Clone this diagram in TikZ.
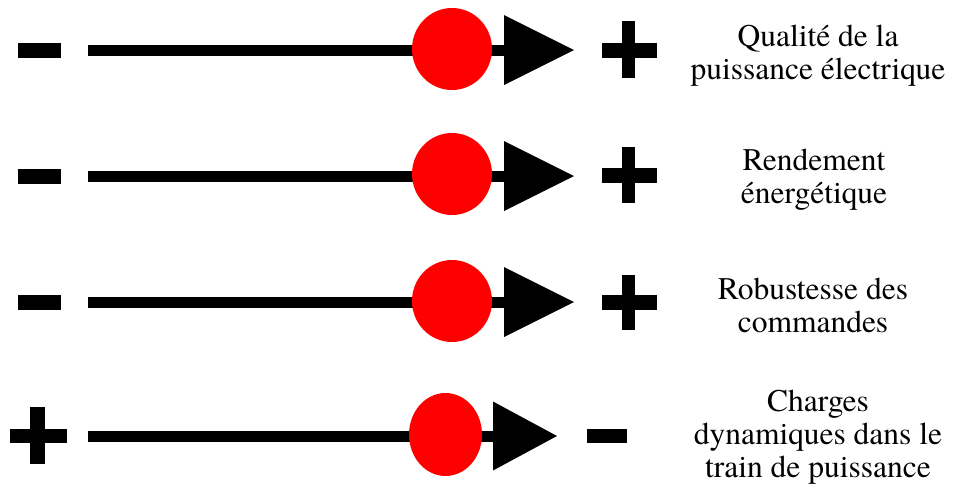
\documentclass[tikz,border=0pt]{standalone}
\usepackage{fontspec}
\setmainfont{texgyretermes}[Extension=.otf,UprightFont=*-regular,BoldFont=*-bold]
\usepackage{xcolor}
\usepackage{tikz}
\usetikzlibrary{arrows.meta}
\usetikzlibrary{shapes.geometric}
\usetikzlibrary{positioning}

\begin{document}
\begin{tikzpicture}[x=1pt,y=-1pt,
	axe/.style={line width=11pt,-{Triangle[length=70pt,width=70pt,line width=0pt]}},
	curseur/.style={ellipse,fill=red,inner sep=0pt,minimum width=80pt,minimum height=82pt},
	critere/.style={align=center,inner sep=0pt,font=\rmfamily\fontsize{31.5}{33}\selectfont}]
	\useasboundingbox (0,0) rectangle (954,491);
	% ligne 1
	\fill (18,43) rectangle (61,58);
	\coordinate (debut1) at (88,50);
	\coordinate (fin1) at (574,50);
	\draw[axe] (debut1) -- (fin1);
	\node[curseur] (curseur1) at (452,49) {};
	\fill (602,43) rectangle (657,58);
	\fill (622,21) rectangle (635,78);
	\node[critere] (critere1) at (818,56) {Qualité de la\\puissance électrique};
	% ligne 2
	\fill (18,169) rectangle (61,184);
	\coordinate (debut2) at (88,176);
	\coordinate (fin2) at (574,176);
	\draw[axe] (debut2) -- (fin2);
	\node[curseur] (curseur2) at (452,174) {};
	\fill (602,168) rectangle (657,183);
	\fill (622,147) rectangle (635,203);
	\node[critere] (critere2) at (814,180) {Rendement\\énergétique};
	% ligne 3
	\fill (18,295) rectangle (61,310);
	\coordinate (debut3) at (88,302);
	\coordinate (fin3) at (574,302);
	\draw[axe] (debut3) -- (fin3);
	\node[curseur] (curseur3) at (452,301) {};
	\fill (602,295) rectangle (657,310);
	\fill (622,275) rectangle (635,330);
	\node[critere] (critere3) at (813,305) {Robustesse des\\commandes};
	% ligne 4
	\fill (10,429) rectangle (67,443);
	\fill (30,407) rectangle (45,464);
	\coordinate (debut4) at (88,436);
	\coordinate (fin4) at (557,436);
	\draw[axe,-{Triangle[length=64pt,width=69pt,line width=0pt]}] (debut4) -- (fin4);
	\node[curseur,minimum width=73pt,minimum height=83pt] (curseur4) at (445.5,434.5) {};
	\fill (587,429) rectangle (627,443);
	\node[critere] (critere4) at (818,437) {Charges\\dynamiques dans le\\train de puissance};
\end{tikzpicture}
\end{document}
